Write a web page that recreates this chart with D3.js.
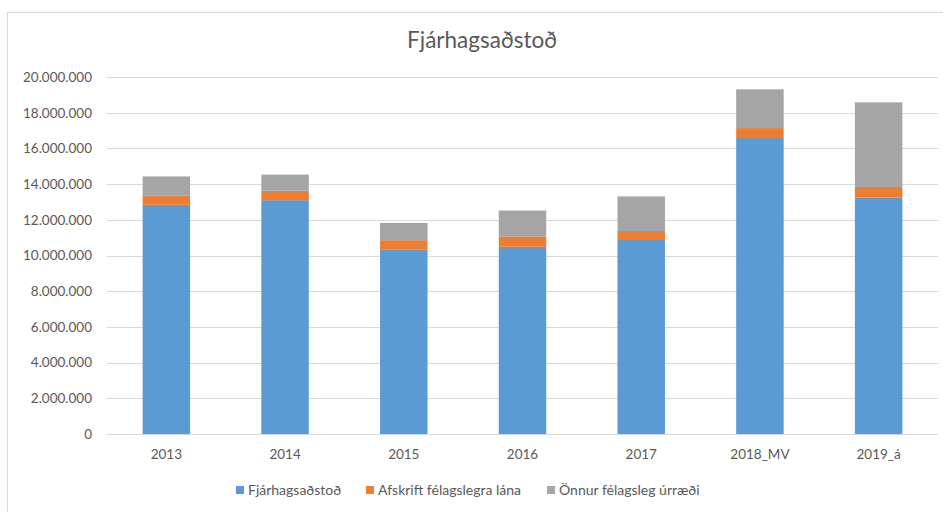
<!DOCTYPE html>
<html>
<head>
<meta charset="utf-8">
<script src="https://cdn.jsdelivr.net/npm/d3@7"></script>
<style>
    body { margin: 0; background: #fff; }
    svg text { font-family: Lato, "Open Sans", sans-serif; fill: #595959; }
    .grid line { stroke: #d9d9d9; stroke-width: 1; }
</style>
</head>
<body>
<svg id="chart" width="943" height="512"></svg>
<script>
// data (values in kr)
const years = ["2013", "2014", "2015", "2016", "2017", "2018_MV", "2019_á"];
const fjarhagsadstod = [12840000, 13100000, 10320000, 10490000, 10920000, 16580000, 13250000];
const afskrift = [530000, 530000, 540000, 580000, 450000, 560000, 590000];
const onnur = [1060000, 900000, 960000, 1450000, 1940000, 2170000, 4740000];
const seriesNames = ["Fjárhagsaðstoð", "Afskrift félagslegra lána", "Önnur félagsleg úrræði"];
const colors = ["#5b9bd5", "#ed7d31", "#a5a5a5"];
const yTicks = [0, 2000000, 4000000, 6000000, 8000000, 10000000, 12000000, 14000000, 16000000, 18000000, 20000000];

const svg = d3.select("#chart");

// chart frame (the right and bottom edges fall outside the picture)
svg.append("rect")
    .attr("x", 7.5).attr("y", 12.5)
    .attr("width", 960).attr("height", 520)
    .attr("fill", "none").attr("stroke", "#d9d9d9");

const margin = {left: 107, right: 5, top: 77, bottom: 78};
const width = 943 - margin.left - margin.right;
const height = 512 - margin.top - margin.bottom;

const g = svg.append("g").attr("transform", `translate(${margin.left},${margin.top})`);

const x = d3.scaleBand().domain(years).range([0, width]).paddingInner(0.6).paddingOuter(0.3);
const y = d3.scaleLinear().domain([0, 20000000]).range([height, 0]);

const fmt = v => d3.format(",")(v).replace(/,/g, ".");

// gridlines
g.append("g").attr("class", "grid")
    .selectAll("line").data(yTicks).join("line")
    .attr("x1", 0).attr("x2", width)
    .attr("y1", d => Math.round(y(d)) + 0.5).attr("y2", d => Math.round(y(d)) + 0.5);

// y axis labels
const yAxis = g.append("g")
    .call(d3.axisLeft(y).tickValues(yTicks).tickFormat(fmt).tickSize(0).tickPadding(15));
yAxis.select(".domain").remove();
yAxis.selectAll("text").attr("font-size", 13.5).attr("fill", "#595959");

// x axis labels
const xAxis = g.append("g").attr("transform", `translate(0,${height})`)
    .call(d3.axisBottom(x).tickSize(0).tickPadding(15));
xAxis.select(".domain").remove();
xAxis.selectAll("text").attr("font-size", 13.5).attr("fill", "#595959");

// stacked bars
const rows = years.map((yr, i) => ({year: yr, a: fjarhagsadstod[i], b: afskrift[i], c: onnur[i]}));
const stack = d3.stack().keys(["a", "b", "c"])(rows);

g.selectAll(".layer").data(stack).join("g")
    .attr("class", "layer")
    .attr("fill", (d, i) => colors[i])
    .selectAll("rect").data(d => d).join("rect")
    .attr("x", d => x(d.data.year))
    .attr("width", x.bandwidth())
    .attr("y", d => y(d[1]))
    .attr("height", d => y(d[0]) - y(d[1]));

// title
svg.append("text")
    .attr("x", 482).attr("y", 48)
    .attr("text-anchor", "middle")
    .attr("font-size", 22.5)
    .text("Fjárhagsaðstoð");

// legend
const legendX = [236, 366, 547];
const legend = svg.append("g").selectAll("g").data(seriesNames).join("g")
    .attr("transform", (d, i) => `translate(${legendX[i]},490)`);
legend.append("rect")
    .attr("x", 0).attr("y", -4).attr("width", 8).attr("height", 8)
    .attr("fill", (d, i) => colors[i]);
legend.append("text")
    .attr("x", 12).attr("y", 5)
    .attr("font-size", 14)
    .text(d => d);
</script>
</body>
</html>
